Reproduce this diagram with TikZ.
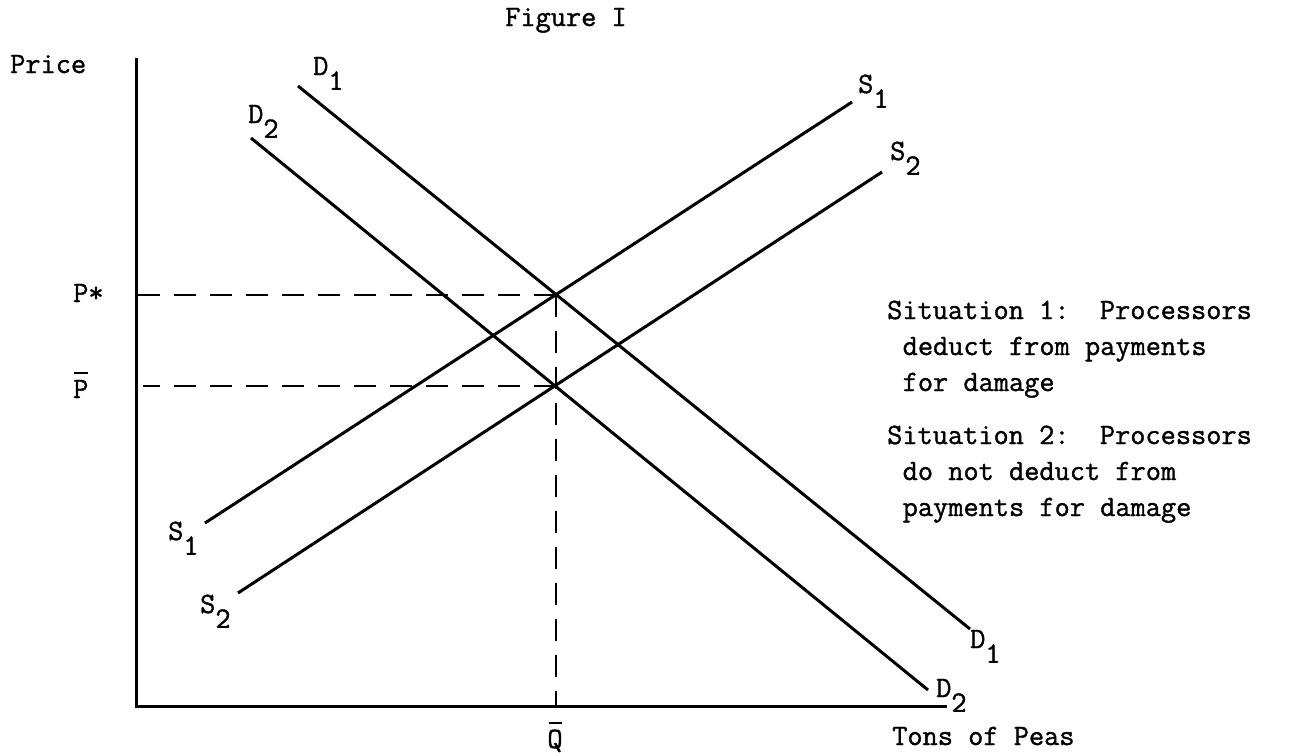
\documentclass[tikz,border=0pt]{standalone}
\usepackage{fontspec}
\newfontfamily\twfont[FakeBold=1.2]{Latin Modern Mono}
\newcommand\labfont{\fontsize{29.5}{36}\selectfont\twfont}
\newcommand\barred[1]{\leavevmode\rlap{\hspace{0.04em}\rule[0.8em]{0.45em}{2.2pt}}#1}
\newcommand\sub[2]{#1\raisebox{-0.5em}{#2}}
\tikzset{
  curve/.style={line width=3pt},
  axisline/.style={line width=3pt},
  guide/.style={line width=2pt, dash pattern=on 22pt off 14pt},
  lab/.style={font=\labfont, inner sep=0pt, anchor=base west},
}
\begin{document}
\begin{tikzpicture}[x=1pt,y=-1pt]
\useasboundingbox (0,0) rectangle (1289,755);
% axes
\coordinate (O) at (136,706);
\coordinate (ytop) at (136,58);
\coordinate (xend) at (947,706);
\draw[axisline] (ytop) -- (O) -- (xend);
% curves
\coordinate (d1a) at (298,86);  \coordinate (d1b) at (970,629);
\coordinate (d2a) at (251,138); \coordinate (d2b) at (928,690);
\coordinate (s1a) at (205,523); \coordinate (s1b) at (852,102);
\coordinate (s2a) at (238,593); \coordinate (s2b) at (882,172);
\draw[curve] (d1a) -- (d1b);
\draw[curve] (d2a) -- (d2b);
\draw[curve] (s1a) -- (s1b);
\draw[curve] (s2a) -- (s2b);
% equilibria
\coordinate (E1) at (556,294.5);
\coordinate (E2) at (555.5,386);
\coordinate (pbarstart) at (143,386);
\draw[guide] (E1) -- (O |- E1);
\draw[guide] (E2) -- (pbarstart);
\draw[guide] (E1) -- (E1 |- O);
% labels
\node[lab] (title) at (505,26) {Figure I};
\node[lab] (price) at (10,73) {Price};
\node[lab] (pstar) at (73,302) {P*};
\node[lab] (pbar) at (73,398) {\barred{P}};
\node[lab, anchor=base] (qbar) at (555,748) {\barred{Q}};
\node[lab] (tons) at (892,745) {Tons of Peas};
\node[lab] (D1t) at (313,75) {\sub{D}{1}};
\node[lab] (D2t) at (248,123) {\sub{D}{2}};
\node[lab] (S1t) at (858,93) {\sub{S}{1}};
\node[lab] (S2t) at (890,160) {\sub{S}{2}};
\node[lab] (S1b) at (168,540) {\sub{S}{1}};
\node[lab] (S2b) at (200,613) {\sub{S}{2}};
\node[lab] (D1b) at (970,648) {\sub{D}{1}};
\node[lab] (D2b) at (936,697) {\sub{D}{2}};
% situation text
\node[lab] (sit1a) at (887,319) {Situation 1:\ \ Processors};
\node[lab] (sit1b) at (902.5,355) {deduct from payments};
\node[lab] (sit1c) at (902.5,391) {for damage};
\node[lab] (sit2a) at (887,444) {Situation 2:\ \ Processors};
\node[lab] (sit2b) at (902.5,480) {do not deduct from};
\node[lab] (sit2c) at (902.5,516) {payments for damage};
\end{tikzpicture}
\end{document}
